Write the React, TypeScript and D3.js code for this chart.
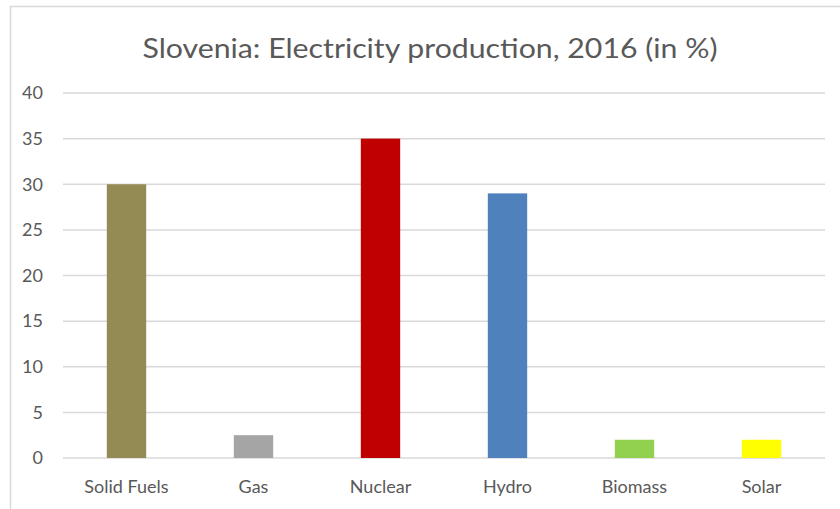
import React, { useRef, useEffect } from 'react';
import * as d3 from 'd3';

const categories = ['Solid Fuels', 'Gas', 'Nuclear', 'Hydro', 'Biomass', 'Solar'];
const values = [30, 2.5, 35, 29, 2, 2];
const barColors = ['#948A54', '#A5A5A5', '#C00000', '#4F81BD', '#92D050', '#FFFF00'];
const yTicks = [0, 5, 10, 15, 20, 25, 30, 35, 40];

const width = 840;
const height = 509;
const font = 'Lato, "Open Sans", sans-serif';

const App: React.FC = () => {
  const svgRef = useRef<SVGSVGElement>(null);

  useEffect(() => {
    if (!svgRef.current) return;
    const svg = d3.select(svgRef.current);
    svg.selectAll('*').remove();

    const margin = { top: 93, right: 15, bottom: 51, left: 63 };
    const innerWidth = width - margin.left - margin.right;
    const innerHeight = height - margin.top - margin.bottom;

    // chart area border
    svg
      .append('rect')
      .attr('x', 10.5)
      .attr('y', 6.5)
      .attr('width', width + 20)
      .attr('height', height + 20)
      .attr('fill', '#ffffff')
      .attr('stroke', '#d9d9d9')
      .attr('stroke-width', 1.5);

    svg
      .append('text')
      .attr('x', 430)
      .attr('y', 58)
      .attr('text-anchor', 'middle')
      .attr('fill', '#595959')
      .attr('font-family', font)
      .attr('font-size', '26px')
      .attr('textLength', 575)
      .attr('lengthAdjust', 'spacingAndGlyphs')
      .text('Slovenia: Electricity production, 2016 (in %)');

    const g = svg.append('g').attr('transform', `translate(${margin.left},${margin.top})`);

    const x = d3
      .scaleBand()
      .domain(categories)
      .range([0, innerWidth])
      .paddingInner(0.69)
      .paddingOuter(0.345);
    const y = d3.scaleLinear().domain([0, 40]).range([innerHeight, 0]);

    // gridlines
    g.selectAll('.grid')
      .data(yTicks)
      .enter()
      .append('line')
      .attr('x1', 0)
      .attr('x2', innerWidth)
      .attr('y1', (d) => y(d))
      .attr('y2', (d) => y(d))
      .attr('stroke', '#d9d9d9')
      .attr('stroke-width', 1.5);

    // y labels
    g.selectAll('.y-label')
      .data(yTicks)
      .enter()
      .append('text')
      .attr('x', -20)
      .attr('y', (d) => y(d))
      .attr('dy', '0.35em')
      .attr('text-anchor', 'end')
      .attr('fill', '#595959')
      .attr('font-family', font)
      .attr('font-size', '18px')
      .text((d) => d);

    // bars
    g.selectAll('.bar')
      .data(categories)
      .enter()
      .append('rect')
      .attr('x', (d) => x(d)!)
      .attr('y', (d, i) => y(values[i]))
      .attr('width', x.bandwidth())
      .attr('height', (d, i) => innerHeight - y(values[i]))
      .attr('fill', (d, i) => barColors[i]);

    // x labels
    g.selectAll('.x-label')
      .data(categories)
      .enter()
      .append('text')
      .attr('x', (d) => x(d)! + x.bandwidth() / 2)
      .attr('y', innerHeight + 35)
      .attr('text-anchor', 'middle')
      .attr('fill', '#595959')
      .attr('font-family', font)
      .attr('font-size', '18px')
      .text((d) => d);
  }, []);

  return (
    <svg
      ref={svgRef}
      width={width}
      height={height}
      style={{ position: 'absolute', left: 0, top: 0, display: 'block', background: '#ffffff' }}
    />
  );
};

export default App;
